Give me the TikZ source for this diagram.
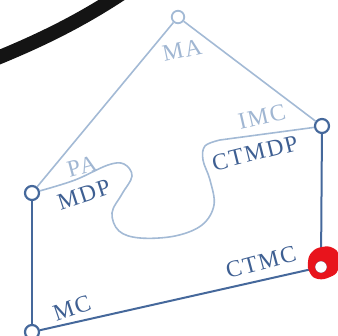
\documentclass[tikz,border=0pt]{standalone}
\usepackage{fontspec}
\newfontfamily\labelfont[LetterSpace=7]{Liberation Serif}
\definecolor{deepblue}{HTML}{45689B}
\definecolor{paleblue}{HTML}{A3BAD5}
\definecolor{deeptext}{HTML}{3E5F92}
\definecolor{paletext}{HTML}{A0B6D2}
\definecolor{markred}{HTML}{E8141C}
\begin{document}
\begin{tikzpicture}[x=1pt,y=-1pt,
  darkvertex/.style={circle, draw=deepblue, line width=2.2pt, fill=white, minimum size=14pt, inner sep=0pt},
  lightvertex/.style={circle, draw=paleblue, line width=1.8pt, fill=white, minimum size=12.5pt, inner sep=0pt},
  darkedge/.style={draw=deepblue, line width=2pt},
  lightedge/.style={draw=paleblue, line width=1.6pt},
  darklabel/.style={text=deeptext, font=\labelfont\fontsize{23.5}{24}\selectfont, inner sep=0pt},
  lightlabel/.style={text=paletext, font=\labelfont\fontsize{23.5}{24}\selectfont, inner sep=0pt}
]
\useasboundingbox (0,0) rectangle (338,336);

% thick black stroke in the upper left corner
\draw[line width=14pt, black!92, line cap=round] (-15,63) .. controls (35,43) and (80,22) .. (130,-12);

% vertices
\node[lightvertex] (ma) at (178,17) {};
\node[darkvertex] (imc) at (322,126) {};
\node[darkvertex] (pa) at (32,193) {};
\node[darkvertex] (mc) at (32,332) {};
\node[darkvertex] (ctmc) at (321,267) {};

% edges
\path[lightedge] (ma) -- (pa);
\path[lightedge] (ma) -- (imc);
\path[darkedge] (imc) -- (ctmc);
\path[darkedge] (ctmc) -- (mc);
\path[darkedge] (mc) -- (pa);
\draw[lightedge] plot[smooth, tension=0.6] coordinates {
  (pa.15) (75,180) (108,165) (124,164) (132,176) (122,194) (112,213)
  (119,231) (140,238) (175,236) (202,225) (214,205) (210,180) (203,160)
  (205,146) (220,140)} -- (imc.190);

% labels
\node[lightlabel, rotate=12] (tma) at (182,50) {MA};
\node[lightlabel, rotate=13] (timc) at (262,117) {IMC};
\node[darklabel, rotate=14] (tctmdp) at (255,153) {CTMDP};
\node[lightlabel, rotate=15] (tpa) at (82,166) {PA};
\node[darklabel, rotate=18] (tmdp) at (84,195) {MDP};
\node[darklabel, rotate=19] (tmc) at (72,308) {MC};
\node[darklabel, rotate=15] (tctmc) at (261,262) {CTMC};

% red marking around the CTMC vertex
\fill[markred, even odd rule] plot[smooth cycle, tension=0.8] coordinates {
  (308,262) (312,252) (322,247) (333,248) (339,256) (338,270) (330,277) (318,279) (310,273)}
  (321,267) circle (6);
\end{tikzpicture}
\end{document}
